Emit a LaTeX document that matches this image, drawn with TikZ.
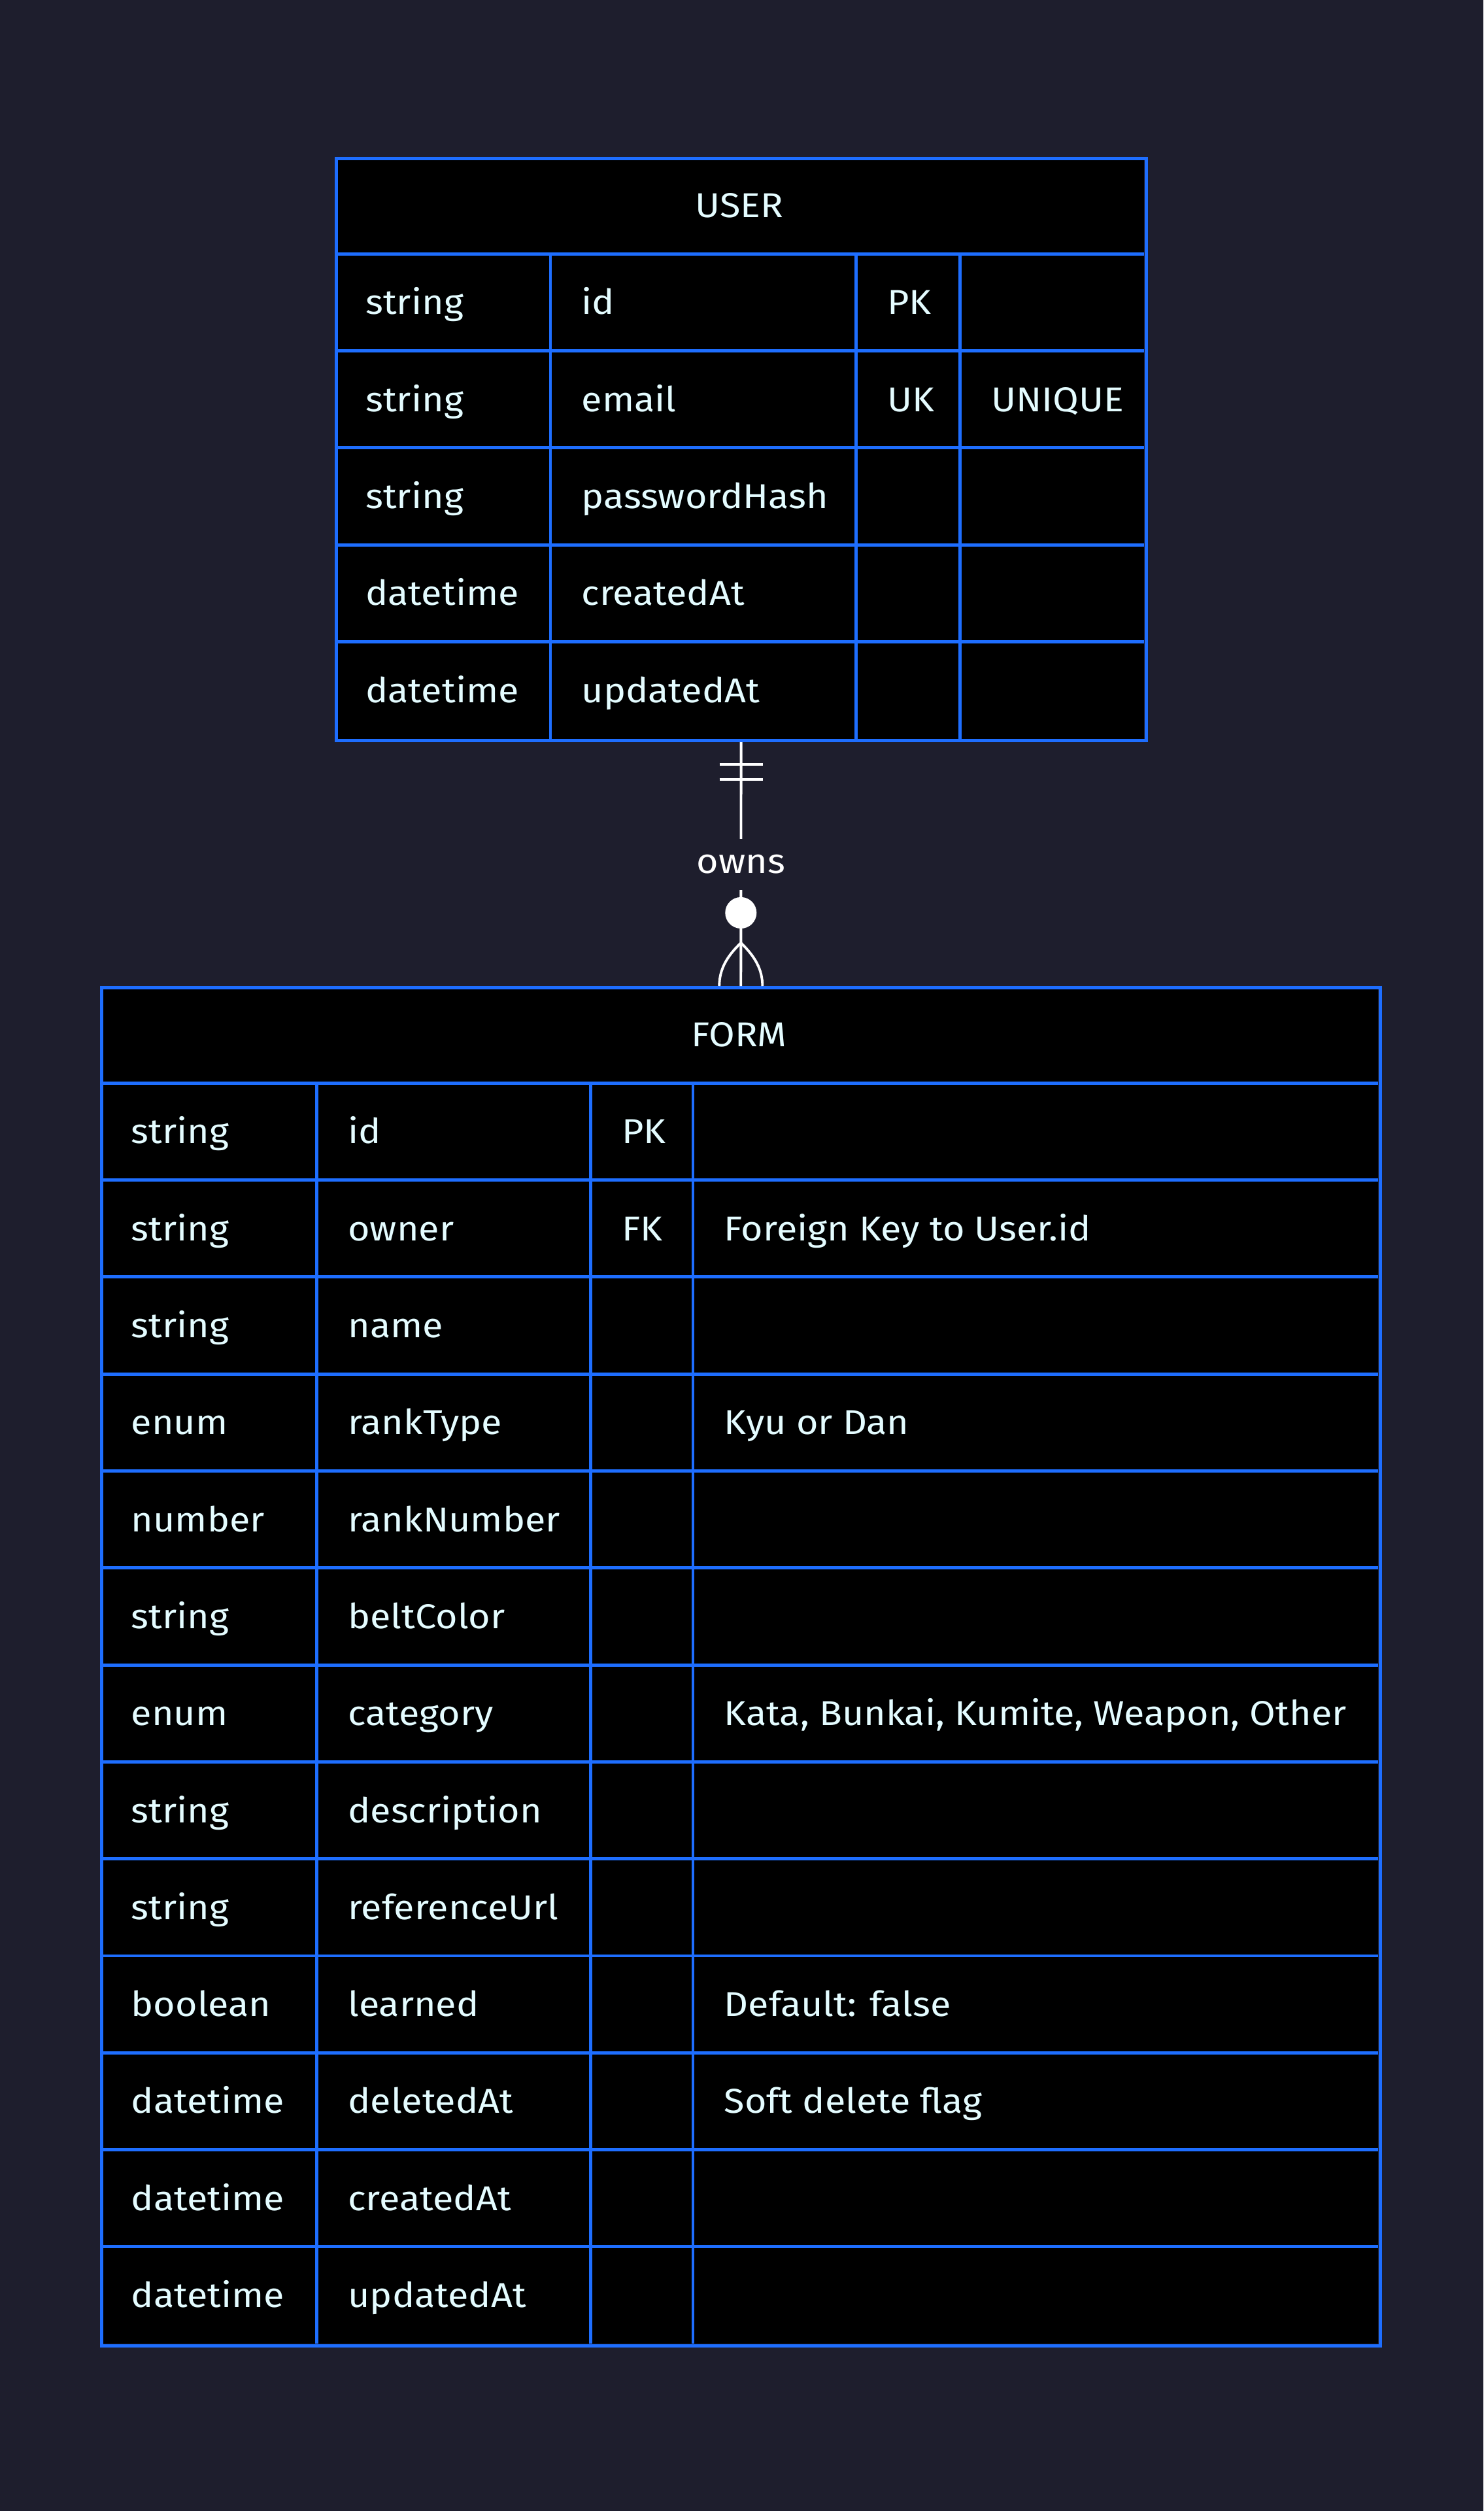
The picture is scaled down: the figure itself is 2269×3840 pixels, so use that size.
\documentclass[tikz,border=0pt]{standalone}
\usepackage{fontspec}
\setmainfont[FakeStretch=1.09]{Fira Sans}
\definecolor{bgnavy}{HTML}{1E1E2D}
\definecolor{gridblue}{HTML}{1E6EFF}
\definecolor{celltext}{HTML}{E4FCFF}
\tikzset{
  gridline/.style={draw=gridblue, line width=1.4pt},
  tableframe/.style={draw=gridblue, line width=1.4pt, inner sep=0pt, anchor=north west},
  celltxt/.style={anchor=base west, inner sep=0pt, text=celltext, font=\fontsize{15}{18}\selectfont},
  headtxt/.style={anchor=base, inner sep=0pt, text=celltext, font=\fontsize{15}{18}\selectfont},
  relline/.style={draw=white, line width=1.1pt},
}
\begin{document}
\begin{tikzpicture}[x=0.01cm, y=-0.01cm]
  % Hintergrund
  \fill[bgnavy] (0,0) rectangle (2269,3840);
  \useasboundingbox (0,0) rectangle (2269,3840);

  % USER
  \fill[black] (511.6,240) rectangle (1750,1129.8);
  \foreach \i in {1,...,5}
    \draw[gridline] (511.6,{240+\i*148.3}) -- (1750,{240+\i*148.3});
  \foreach \x in {842,1309.5,1468.6}
    \draw[gridline] (\x,388.3) -- (\x,1129.8);
  \node[tableframe, minimum width=12.384cm, minimum height=8.898cm] (user) at (511.6,240) {};
  \node[headtxt] (userhead) at (1130.8,{240+74.15+18.5}) {USER};
  \foreach \ty/\nm/\ky/\cm [count=\i] in {string/id/PK/{}, string/email/UK/UNIQUE,
      string/passwordHash/{}/{}, datetime/createdAt/{}/{}, datetime/updatedAt/{}/{}} {
    \node[celltxt] (user-ty\i) at (558.6,{240+(\i+0.5)*148.3+18.5}) {\ty};
    \node[celltxt] (user-nm\i) at (889,{240+(\i+0.5)*148.3+18.5}) {\nm};
    \node[celltxt] (user-ky\i) at (1356.5,{240+(\i+0.5)*148.3+18.5}) {\ky};
    \node[celltxt] (user-cm\i) at (1515.6,{240+(\i+0.5)*148.3+18.5}) {\cm};
  }

  % FORM
  \fill[black] (153,1508) rectangle (2107.5,3584.2);
  \foreach \i in {1,...,13}
    \draw[gridline] (153,{1508+\i*148.3}) -- (2107.5,{1508+\i*148.3});
  \foreach \x in {484.7,903.3,1060}
    \draw[gridline] (\x,1656.3) -- (\x,3584.2);
  \node[tableframe, minimum width=19.545cm, minimum height=20.762cm] (form) at (153,1508) {};
  \node[headtxt] (formhead) at (1130.3,{1508+74.15+18.5}) {FORM};
  \foreach \ty/\nm/\ky/\cm [count=\i] in {string/id/PK/{}, string/owner/FK/{Foreign Key to User.id},
      string/name/{}/{}, enum/rankType/{}/{Kyu or Dan}, number/rankNumber/{}/{},
      string/beltColor/{}/{}, enum/category/{}/{Kata, Bunkai, Kumite, Weapon, Other},
      string/description/{}/{}, string/referenceUrl/{}/{}, boolean/learned/{}/{Default: false},
      datetime/deletedAt/{}/{Soft delete flag}, datetime/createdAt/{}/{}, datetime/updatedAt/{}/{}} {
    \node[celltxt] (form-ty\i) at (200,{1508+(\i+0.5)*148.3+18.5}) {\ty};
    \node[celltxt] (form-nm\i) at (531.7,{1508+(\i+0.5)*148.3+18.5}) {\nm};
    \node[celltxt] (form-ky\i) at (950.3,{1508+(\i+0.5)*148.3+18.5}) {\ky};
    \node[celltxt] (form-cm\i) at (1107,{1508+(\i+0.5)*148.3+18.5}) {\cm};
  }

  % Beziehung USER ||--o{ FORM
  \draw[relline] (user.south) -- node[fill=bgnavy, minimum height=0.78cm, inner sep=0pt,
    text=white, font=\fontsize{15}{18}\selectfont] (owns) {owns} (form.north);
  \draw[relline] ([xshift=-0.33cm, yshift=-0.34cm]user.south) -- ([xshift=0.33cm, yshift=-0.34cm]user.south);
  \draw[relline] ([xshift=-0.33cm, yshift=-0.57cm]user.south) -- ([xshift=0.33cm, yshift=-0.57cm]user.south);
  \fill[white] ([yshift=1.12cm]form.north) circle (0.24cm);
  \draw[relline] ([yshift=0.66cm]form.north) .. controls ([xshift=-0.22cm, yshift=0.45cm]form.north)
    and ([xshift=-0.33cm, yshift=0.25cm]form.north) .. ([xshift=-0.33cm]form.north);
  \draw[relline] ([yshift=0.66cm]form.north) .. controls ([xshift=0.22cm, yshift=0.45cm]form.north)
    and ([xshift=0.33cm, yshift=0.25cm]form.north) .. ([xshift=0.33cm]form.north);
\end{tikzpicture}
\end{document}
